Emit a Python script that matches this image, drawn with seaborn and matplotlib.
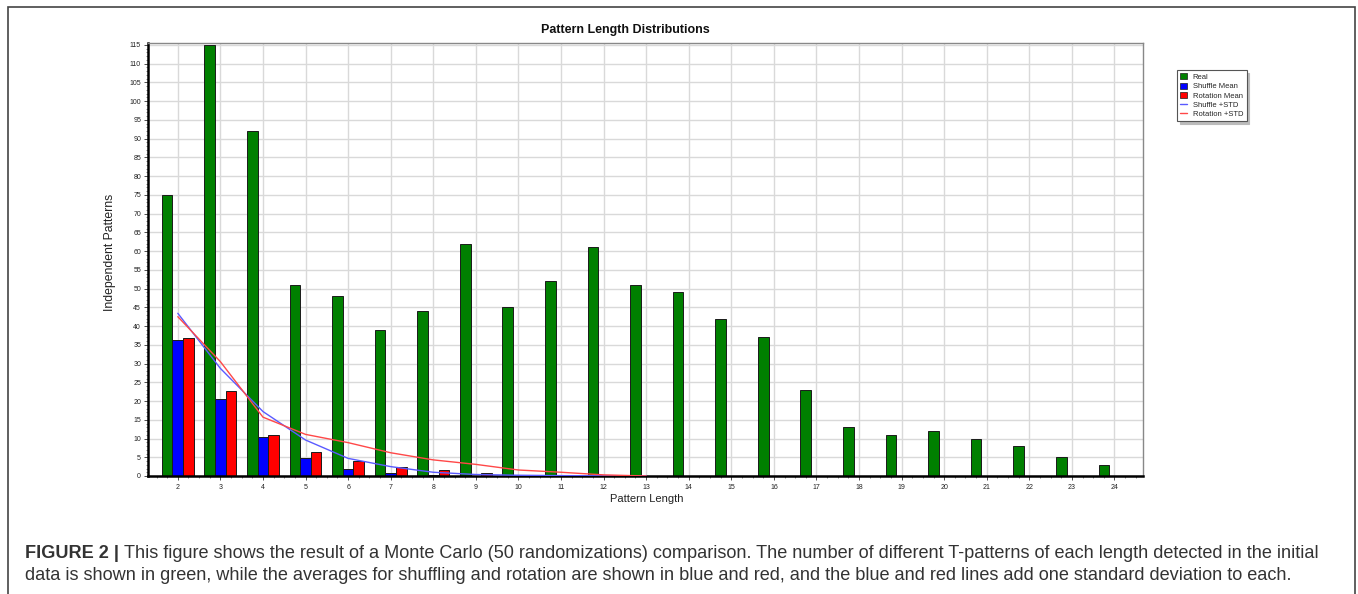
import numpy as np
import pandas as pd
import matplotlib
matplotlib.use("Agg")
import matplotlib.pyplot as plt
from matplotlib.patches import Rectangle, Patch
from matplotlib.lines import Line2D
from matplotlib.ticker import MultipleLocator
import seaborn as sns

# ---------------- data ----------------
lengths = [2, 3, 4, 5, 6, 7, 8, 9, 10, 11, 12, 13, 14, 15, 16, 17, 18, 19, 20, 21, 22, 23, 24]
real = [75, 115, 92, 51, 48, 39, 44, 62, 45, 52, 61, 51, 49, 42, 37, 23, 13, 11, 12, 10, 8, 5, 3]
shuffle_mean = [36.3, 20.5, 10.4, 4.9, 1.9, 0.9, 0.3, 0.1, 0.05, 0, 0, 0, 0, 0, 0, 0, 0, 0, 0, 0, 0, 0, 0]
rotation_mean = [36.7, 22.7, 10.9, 6.5, 4.1, 2.3, 1.5, 0.8, 0.3, 0.2, 0.1, 0, 0, 0, 0, 0, 0, 0, 0, 0, 0, 0, 0]
std_lengths = [2, 3, 4, 5, 6, 7, 8, 9, 10, 11, 12, 13]
shuffle_std = [43.4, 28.7, 17.2, 9.6, 4.7, 2.5, 1.0, 0.4, 0.2, 0.1, 0.05, 0]
rotation_std = [42.5, 30.5, 15.7, 11.1, 8.9, 6.2, 4.3, 3.1, 1.6, 1.0, 0.3, 0]
series_names = ["Real", "Shuffle Mean", "Rotation Mean"]
series_colors = ["#008000", "#0000FF", "#FF0000"]
y_ticks = list(range(0, 116, 5))
title = "Pattern Length Distributions"
x_label = "Pattern Length"
y_label = "Independent Patterns"
caption_bold = "FIGURE 2 | "
caption_line1 = ("This figure shows the result of a Monte Carlo (50 randomizations) comparison. "
                 "The number of different T-patterns of each length detected in the initial")
caption_line2 = ("data is shown in green, while the averages for shuffling and rotation are shown "
                 "in blue and red, and the blue and red lines add one standard deviation to each.")

df = pd.DataFrame({"Pattern Length": lengths, "Real": real,
                   "Shuffle Mean": shuffle_mean, "Rotation Mean": rotation_mean})
long = df.melt(id_vars="Pattern Length", var_name="Series", value_name="Count")

# ---------------- figure ----------------
sns.set_theme(style="white")
plt.rcParams["font.family"] = ["Liberation Sans", "DejaVu Sans"]

W, H = 1358, 594
fig = plt.figure(figsize=(W / 100, H / 100), dpi=100)
fig.patch.set_facecolor("white")

ax_left, ax_right, ax_top, ax_bottom = 148, 1143, 43, 476
ax = fig.add_axes([ax_left / W, 1 - ax_bottom / H, (ax_right - ax_left) / W, (ax_bottom - ax_top) / H])

sns.barplot(data=long, x="Pattern Length", y="Count", hue="Series",
            hue_order=series_names, palette=series_colors, native_scale=True,
            width=0.75, edgecolor="#1a1a1a", linewidth=0.7, saturation=1,
            legend=False, ax=ax, zorder=2)

sns.lineplot(x=std_lengths, y=shuffle_std, color="#5a5aff", linewidth=1.0, ax=ax, zorder=3)
sns.lineplot(x=std_lengths, y=rotation_std, color="#ff4848", linewidth=1.0, ax=ax, zorder=3)

ax.set_xlim(lengths[0] - 0.7, lengths[-1] + 0.67)
ax.set_ylim(0, 115.5)
ax.set_xticks(lengths)
ax.set_xticklabels([str(v) for v in lengths])
ax.xaxis.set_minor_locator(MultipleLocator(0.25))
ax.set_yticks(y_ticks)
ax.yaxis.set_minor_locator(MultipleLocator(1))

ax.grid(True, which="major", color="#d9d9d9", linewidth=1.0, zorder=0)
ax.set_axisbelow(True)

ax.tick_params(axis="both", which="major", labelsize=5, length=3, width=0.6,
               color="#333333", labelcolor="#222222", pad=2, bottom=True, left=True)
ax.tick_params(axis="both", which="minor", length=1.5, width=0.5, color="#555555",
               bottom=True, left=True)
ax.tick_params(axis="x", which="major", pad=3)

for side in ["left", "bottom"]:
    ax.spines[side].set_color("#000000")
    ax.spines[side].set_linewidth(1.8)
for side in ["top", "right"]:
    ax.spines[side].set_color("#888888")
    ax.spines[side].set_linewidth(1.0)

ax.set_xlabel(x_label, fontsize=8, color="#222222")
ax.set_ylabel(y_label, fontsize=8.8, color="#222222")
ax.xaxis.set_label_coords((647 - ax_left) / (ax_right - ax_left), (ax_bottom - 493.5) / (ax_bottom - ax_top))
ax.yaxis.set_label_coords((116 - ax_left) / (ax_right - ax_left), (ax_bottom - 252) / (ax_bottom - ax_top))

fig.text(625 / W, 1 - 30 / H, title, ha="center", va="center",
         fontsize=9, fontweight="bold", color="#111111")

handles = [Patch(facecolor=series_colors[0], edgecolor="#1a1a1a", linewidth=0.5),
           Patch(facecolor=series_colors[1], edgecolor="#1a1a1a", linewidth=0.5),
           Patch(facecolor=series_colors[2], edgecolor="#1a1a1a", linewidth=0.5),
           Line2D([], [], color="#5a5aff", linewidth=1.0),
           Line2D([], [], color="#ff4848", linewidth=1.0)]
labels = series_names + ["Shuffle +STD", "Rotation +STD"]
leg = fig.legend(handles, labels, loc="upper left", bbox_to_anchor=(1177 / W, 1 - 70 / H),
                 fontsize=5.5, frameon=True, fancybox=False, shadow={"color": "#bbbbbb", "alpha": 1},
                 handlelength=0.9, handleheight=0.8, handletextpad=0.7,
                 labelspacing=0.22, borderpad=0.45, borderaxespad=0)
leg.get_frame().set_edgecolor("#555555")
leg.get_frame().set_linewidth(0.8)

# outer frame
fig.add_artist(Rectangle((8 / W, -0.1), (1355 - 8) / W, 1.1 - 7 / H, transform=fig.transFigure,
                         fill=False, edgecolor="#444444", linewidth=1.2, clip_on=False))

# caption (font size fitted so the first line spans the same width as the reference)
cap_family = ["Liberation Sans", "DejaVu Sans"]
target_px = 1317 - 25
r = fig.canvas.get_renderer()
size = 12.5
for _ in range(3):
    tb = fig.text(0, 0, caption_bold, fontsize=size, fontweight="bold", family=cap_family)
    tn = fig.text(0, 0, caption_line1, fontsize=size, family=cap_family)
    wpx = tb.get_window_extent(r).width + tn.get_window_extent(r).width
    tb.remove(); tn.remove()
    size *= target_px / wpx

cap_kw = dict(fontsize=size, color="#333333", va="baseline", ha="left", family=cap_family)
t1 = fig.text(25 / W, 1 - 557.5 / H, caption_bold, fontweight="bold", **cap_kw)
x_end = t1.get_window_extent(r).x1
fig.text(x_end / W, 1 - 557.5 / H, caption_line1, **cap_kw)
fig.text(25 / W, 1 - 580.5 / H, caption_line2, **cap_kw)

fig.savefig("out.png", dpi=100, facecolor="white")
